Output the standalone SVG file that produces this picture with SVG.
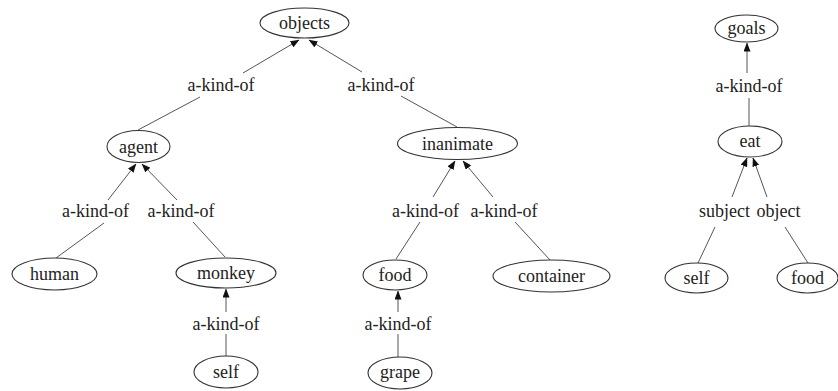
<svg xmlns="http://www.w3.org/2000/svg" width="838" height="391" viewBox="0 0 838 391">
  <defs>
    <marker id="arrow" markerUnits="userSpaceOnUse" markerWidth="9" markerHeight="7" refX="8.5" refY="3.5" orient="auto">
      <path d="M0,0 L9,3.5 L0,7 z" fill="#111111"/>
    </marker>
  </defs>
  <rect width="838" height="391" fill="#ffffff"/>

  <!-- connectors: each edge is two segments around its label, arrowhead at the parent -->
  <g id="connectors" stroke="#555555" stroke-width="1">
    <g id="e-agent-objects">
      <line marker-end="url(#arrow)" x1="243" y1="73" x2="299" y2="40"/>
      <line x1="200" y1="97" x2="138" y2="130"/>
    </g>
    <g id="e-inanimate-objects">
      <line marker-end="url(#arrow)" x1="362" y1="72" x2="309" y2="40"/>
      <line x1="401" y1="96" x2="457" y2="127"/>
    </g>
    <g id="e-human-agent">
      <line marker-end="url(#arrow)" x1="108" y1="200" x2="136" y2="164"/>
      <line x1="104" y1="223" x2="56" y2="258"/>
    </g>
    <g id="e-monkey-agent">
      <line marker-end="url(#arrow)" x1="177" y1="200" x2="142" y2="164"/>
      <line x1="193" y1="222" x2="225" y2="257"/>
    </g>
    <g id="e-food-inanimate">
      <line marker-end="url(#arrow)" x1="433" y1="197" x2="455" y2="161"/>
      <line x1="420" y1="222" x2="396" y2="259"/>
    </g>
    <g id="e-container-inanimate">
      <line marker-end="url(#arrow)" x1="493" y1="197" x2="463" y2="161"/>
      <line x1="515" y1="222" x2="550" y2="260"/>
    </g>
    <g id="e-self-monkey">
      <line marker-end="url(#arrow)" x1="226" y1="312" x2="226" y2="289"/>
      <line x1="226" y1="334" x2="226" y2="356"/>
    </g>
    <g id="e-grape-food">
      <line marker-end="url(#arrow)" x1="398" y1="312" x2="398" y2="291"/>
      <line x1="398" y1="334" x2="398" y2="357"/>
    </g>
    <g id="e-eat-goals">
      <line marker-end="url(#arrow)" x1="747" y1="73" x2="747" y2="43"/>
      <line x1="749" y1="98" x2="749" y2="126"/>
    </g>
    <g id="e-self-eat">
      <line marker-end="url(#arrow)" x1="732" y1="197" x2="747" y2="158"/>
      <line x1="715" y1="227" x2="698" y2="263"/>
    </g>
    <g id="e-food-eat">
      <line marker-end="url(#arrow)" x1="767" y1="197" x2="753" y2="158"/>
      <line x1="785" y1="227" x2="808" y2="263"/>
    </g>
  </g>

  <!-- edge labels -->
  <g id="edge-labels" font-family="Liberation Serif" font-size="18" fill="#222222" text-anchor="middle">
    <text x="221" y="91">a-kind-of</text>
    <text x="381" y="91">a-kind-of</text>
    <text x="95.5" y="216.5">a-kind-of</text>
    <text x="181" y="216.5">a-kind-of</text>
    <text x="425.5" y="216.5">a-kind-of</text>
    <text x="504" y="216.5">a-kind-of</text>
    <text x="226" y="330">a-kind-of</text>
    <text x="398" y="330">a-kind-of</text>
    <text x="749" y="92">a-kind-of</text>
    <text x="724.5" y="216.5">subject</text>
    <text x="778.5" y="216.5">object</text>
  </g>

  <!-- nodes -->
  <g id="nodes" font-family="Liberation Serif" font-size="18" text-anchor="middle">
    <g id="objects"><ellipse fill="#ffffff" stroke="#333333" stroke-width="1.1" cx="304.5" cy="23" rx="44.5" ry="15"/><text fill="#222222" x="304.5" y="29">objects</text></g>
    <g id="agent"><ellipse fill="#ffffff" stroke="#333333" stroke-width="1.1" cx="138.5" cy="146.5" rx="31.5" ry="16"/><text fill="#222222" x="138.5" y="152.5">agent</text></g>
    <g id="inanimate"><ellipse fill="#ffffff" stroke="#333333" stroke-width="1.1" cx="457.5" cy="143.5" rx="60" ry="16"/><text fill="#222222" x="457.5" y="150">inanimate</text></g>
    <g id="human"><ellipse fill="#ffffff" stroke="#333333" stroke-width="1.1" cx="54.5" cy="274" rx="42.5" ry="16"/><text fill="#222222" x="54.5" y="280">human</text></g>
    <g id="monkey"><ellipse fill="#ffffff" stroke="#333333" stroke-width="1.1" cx="226" cy="273" rx="50" ry="15"/><text fill="#222222" x="226" y="279">monkey</text></g>
    <g id="food"><ellipse fill="#ffffff" stroke="#333333" stroke-width="1.1" cx="395" cy="275" rx="32" ry="15"/><text fill="#222222" x="395" y="281">food</text></g>
    <g id="container"><ellipse fill="#ffffff" stroke="#333333" stroke-width="1.1" cx="551.5" cy="276" rx="58.5" ry="16"/><text fill="#222222" x="551.5" y="282">container</text></g>
    <g id="self"><ellipse fill="#ffffff" stroke="#333333" stroke-width="1.1" cx="226" cy="372" rx="32" ry="16"/><text fill="#222222" x="226" y="378">self</text></g>
    <g id="grape"><ellipse fill="#ffffff" stroke="#333333" stroke-width="1.1" cx="400" cy="373" rx="32" ry="16"/><text fill="#222222" x="400" y="378">grape</text></g>
    <g id="goals"><ellipse fill="#ffffff" stroke="#333333" stroke-width="1.1" cx="746.5" cy="28.5" rx="31.5" ry="13.5"/><text fill="#222222" x="746.5" y="34">goals</text></g>
    <g id="eat"><ellipse fill="#ffffff" stroke="#333333" stroke-width="1.1" cx="750" cy="141.5" rx="32" ry="15.5"/><text fill="#222222" x="750" y="147">eat</text></g>
    <g id="eat-self"><ellipse fill="#ffffff" stroke="#333333" stroke-width="1.1" cx="696.5" cy="278" rx="31.5" ry="15"/><text fill="#222222" x="696.5" y="284">self</text></g>
    <g id="eat-food"><ellipse fill="#ffffff" stroke="#333333" stroke-width="1.1" cx="807.5" cy="278" rx="30.5" ry="15"/><text fill="#222222" x="807.5" y="284">food</text></g>
  </g>
</svg>
